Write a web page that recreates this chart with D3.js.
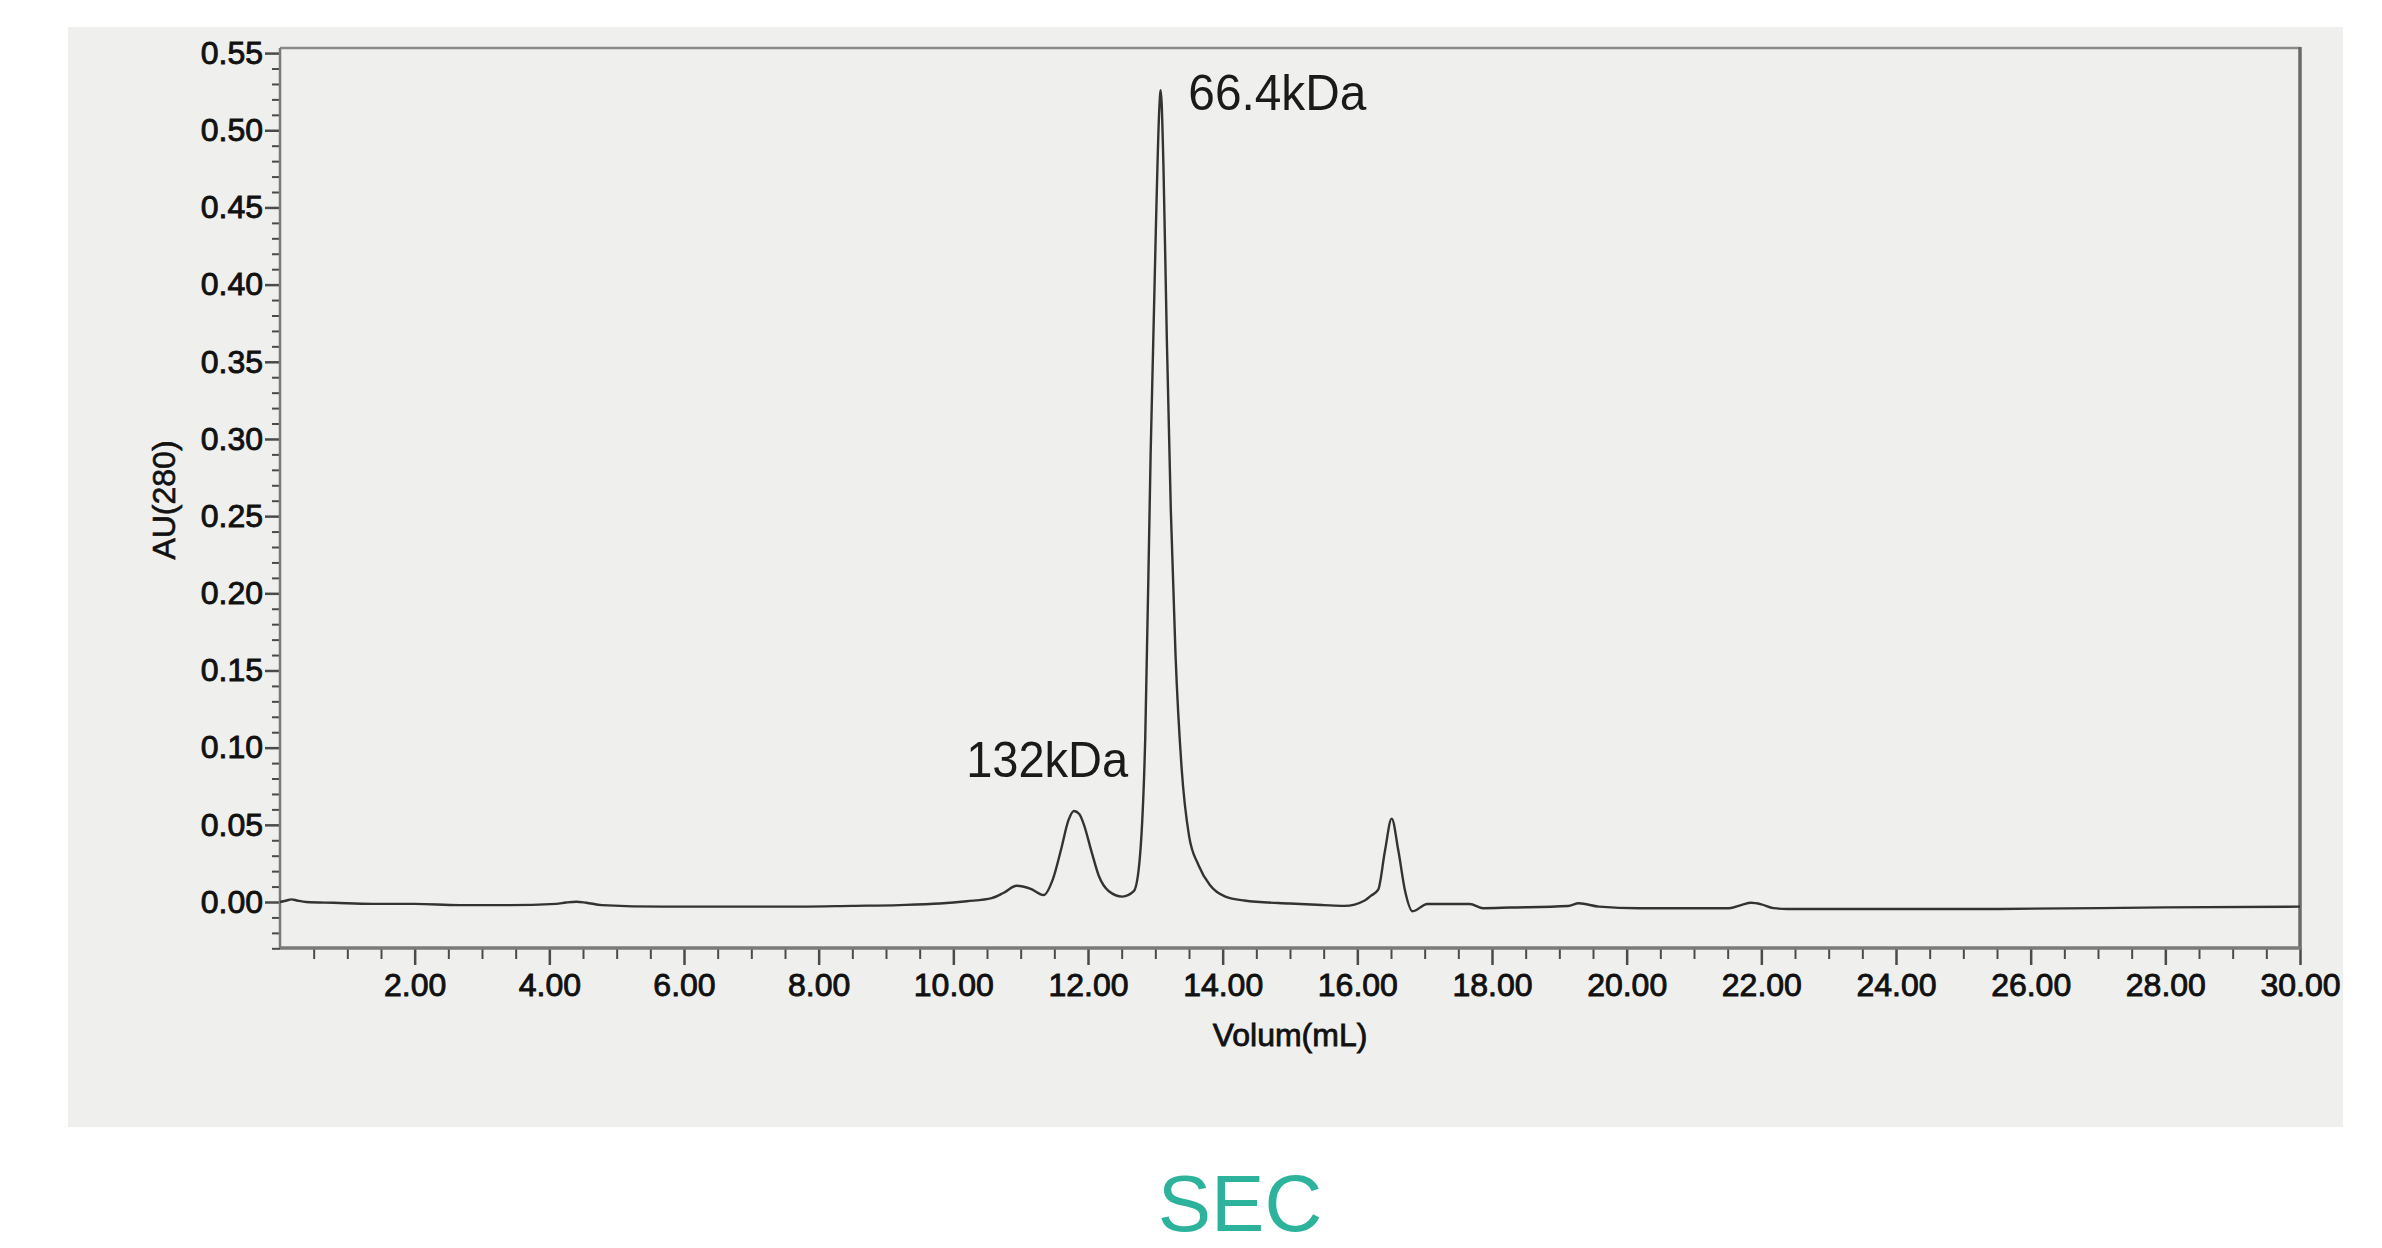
<!DOCTYPE html>
<html>
<head>
<meta charset="utf-8">
<script src="https://cdn.jsdelivr.net/npm/d3@7"></script>
<style>
  html, body { margin: 0; padding: 0; background: #ffffff; }
  svg { display: block; }
  text { font-family: "Liberation Sans", Arial, Helvetica, sans-serif; }
</style>
</head>
<body>
<svg id="chart" width="2382" height="1248"></svg>
<script>
// ---------- data ----------
const volume = [0.00, 0.10, 0.17, 0.25, 0.39, 0.80, 1.37, 2.00, 2.66, 3.40, 4.10, 4.25, 4.40, 4.55, 4.78, 5.69, 6.50, 7.72, 8.50, 9.20, 9.80, 10.20, 10.57, 10.75, 10.94, 11.15, 11.34, 11.48, 11.60, 11.71, 11.79, 11.87, 11.94, 12.05, 12.16, 12.31, 12.51, 12.68, 12.76, 12.85, 12.93, 13.01, 13.06, 13.08, 13.12, 13.17, 13.23, 13.30, 13.39, 13.50, 13.64, 13.81, 14.04, 14.32, 15.00, 15.50, 15.81, 16.11, 16.20, 16.31, 16.41, 16.51, 16.61, 16.71, 16.82, 17.04, 17.67, 17.87, 18.27, 19.13, 19.29, 19.59, 20.19, 21.52, 21.70, 21.85, 22.00, 22.18, 22.38, 25.50, 28.00, 30.00];
const absorbance = [0.000, 0.001, 0.0017, 0.001, 0.000, -0.0005, -0.0012, -0.0012, -0.002, -0.002, -0.0012, -0.0003, 0.0002, -0.0005, -0.002, -0.003, -0.003, -0.003, -0.0025, -0.002, -0.001, 0.0005, 0.0025, 0.006, 0.0105, 0.0085, 0.0045, 0.015, 0.034, 0.053, 0.059, 0.057, 0.050, 0.033, 0.017, 0.007, 0.0035, 0.007, 0.024, 0.106, 0.290, 0.440, 0.515, 0.526, 0.478, 0.366, 0.254, 0.160, 0.087, 0.043, 0.024, 0.011, 0.0035, 0.001, -0.001, -0.002, -0.0025, 0.001, 0.004, 0.008, 0.033, 0.054, 0.033, 0.007, -0.006, -0.0013, -0.0013, -0.004, -0.0036, -0.0026, -0.0008, -0.003, -0.004, -0.004, -0.002, -0.0005, -0.0015, -0.004, -0.0045, -0.0045, -0.0035, -0.003];

const peakLabels = ["132kDa", "66.4kDa"];
const peakLabelVolume = [10.19, 13.49];
const peakLabelAU = [0.081, 0.513];

const xMajorTicks = [2, 4, 6, 8, 10, 12, 14, 16, 18, 20, 22, 24, 26, 28, 30];
const yMajorTicks = [0.00, 0.05, 0.10, 0.15, 0.20, 0.25, 0.30, 0.35, 0.40, 0.45, 0.50, 0.55];
const xTitle = "Volum(mL)";
const yTitle = "AU(280)";
const caption = "SEC";

// ---------- layout ----------
const svg = d3.select("#chart");
const plotLeft = 280, plotRight = 2300, plotTop = 48, plotBottom = 948;

svg.append("rect").attr("x", 68).attr("y", 27).attr("width", 2275).attr("height", 1100)
  .attr("fill", "#efefed");

const x = d3.scaleLinear().domain([0, 30]).range([plotLeft, plotRight]);
const y = d3.scaleLinear().domain([-0.0298, 0.5533]).range([plotBottom, plotTop]);

// minor tick arrays
const xMinor = d3.range(1, 60).map(i => i * 0.5).filter(v => v % 2 !== 0);
const yMinor = d3.range(-3, 56).map(i => i / 100).filter(v => Math.abs(Math.round(v * 100)) % 5 !== 0);

const tickColor = "#4a4a4a";

// x minor ticks
const gxMinor = svg.append("g").attr("transform", `translate(0,${plotBottom})`)
  .call(d3.axisBottom(x).tickValues(xMinor).tickSize(11).tickFormat(""));
gxMinor.select(".domain").remove();
gxMinor.selectAll("line").attr("stroke", tickColor).attr("stroke-width", 2);

// x major ticks
const gx = svg.append("g").attr("transform", `translate(0,${plotBottom})`)
  .call(d3.axisBottom(x).tickValues(xMajorTicks).tickSize(17).tickPadding(8)
    .tickFormat(d3.format(".2f")));
gx.select(".domain").remove();
gx.selectAll("line").attr("stroke", tickColor).attr("stroke-width", 2.5);
gx.selectAll("text").attr("font-size", 32).attr("fill", "#111")
  .attr("font-family", "Liberation Sans, Arial, sans-serif")
  .attr("stroke", "#111").attr("stroke-width", 0.9);

// y minor ticks
const gyMinor = svg.append("g").attr("transform", `translate(${plotLeft},0)`)
  .call(d3.axisLeft(y).tickValues(yMinor).tickSize(8).tickFormat(""));
gyMinor.select(".domain").remove();
gyMinor.selectAll("line").attr("stroke", tickColor).attr("stroke-width", 2);

// y major ticks
const gy = svg.append("g").attr("transform", `translate(${plotLeft},0)`)
  .call(d3.axisLeft(y).tickValues(yMajorTicks).tickSize(15).tickPadding(2)
    .tickFormat(d3.format(".2f")));
gy.select(".domain").remove();
gy.selectAll("line").attr("stroke", tickColor).attr("stroke-width", 2.5);
gy.selectAll("text").attr("font-size", 32).attr("fill", "#111")
  .attr("font-family", "Liberation Sans, Arial, sans-serif")
  .attr("stroke", "#111").attr("stroke-width", 0.9);

// frame
svg.append("line").attr("x1", plotLeft).attr("x2", plotRight).attr("y1", plotTop).attr("y2", plotTop)
  .attr("stroke", "#8a8a8a").attr("stroke-width", 2.5);
svg.append("line").attr("x1", plotRight).attr("x2", plotRight).attr("y1", plotTop - 1).attr("y2", plotBottom)
  .attr("stroke", "#6a6a6a").attr("stroke-width", 3.5);
svg.append("line").attr("x1", plotLeft).attr("x2", plotLeft).attr("y1", plotTop).attr("y2", plotBottom)
  .attr("stroke", "#7a7a7a").attr("stroke-width", 2.5);
svg.append("line").attr("x1", plotLeft).attr("x2", plotRight + 1.5).attr("y1", plotBottom).attr("y2", plotBottom)
  .attr("stroke", "#7a7a7a").attr("stroke-width", 3.5);

// trace
const pts = volume.map((v, i) => [v, absorbance[i]]);
const line = d3.line().x(d => x(d[0])).y(d => y(d[1])).curve(d3.curveMonotoneX);
svg.append("path").datum(pts).attr("d", line)
  .attr("fill", "none").attr("stroke", "#333333").attr("stroke-width", 2.4)
  .attr("stroke-linejoin", "round");

// peak labels
const labelWidths = [162, 178];
peakLabels.forEach((t, i) => {
  svg.append("text").attr("x", x(peakLabelVolume[i])).attr("y", y(peakLabelAU[i]))
    .attr("font-family", "Lato, 'Open Sans', sans-serif")
    .attr("font-size", 50).attr("fill", "#1a1a1a")
    .attr("textLength", labelWidths[i]).attr("lengthAdjust", "spacingAndGlyphs")
    .text(t);
});

// axis titles
svg.append("text").attr("x", 1290).attr("y", 1046)
  .attr("text-anchor", "middle").attr("font-size", 32).attr("fill", "#111")
  .attr("stroke", "#111").attr("stroke-width", 0.8)
  .text(xTitle);
svg.append("text").attr("transform", "translate(175,500) rotate(-90)")
  .attr("text-anchor", "middle").attr("font-size", 32).attr("fill", "#111")
  .attr("stroke", "#111").attr("stroke-width", 0.6)
  .text(yTitle);

// caption
svg.append("text").attr("x", 1240).attr("y", 1231).attr("text-anchor", "middle")
  .attr("font-size", 80).attr("fill", "#2db39c")
  .text(caption);
</script>
</body>
</html>
